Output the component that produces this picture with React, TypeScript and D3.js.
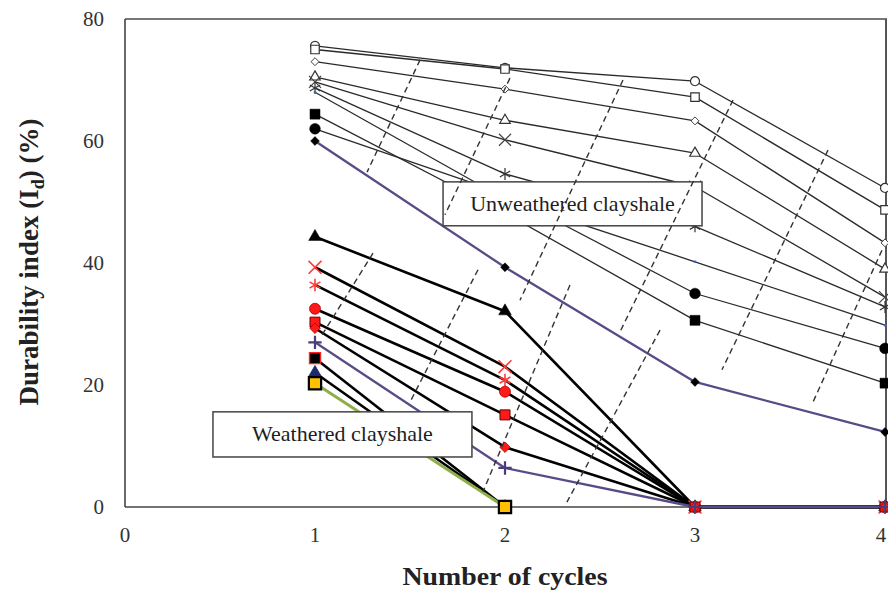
import React from 'react';
import * as d3 from 'd3';

// ---- data ----
const cycles = [1, 2, 3, 4];
const xTicks = [0, 1, 2, 3, 4];
const yTicks = [0, 20, 40, 60, 80];

// Unweathered clayshale (durability index, %)
const uwOpenCircle = [75.6, 72.0, 69.8, 52.3];
const uwOpenSquare = [75.0, 71.8, 67.2, 48.7];
const uwOpenDiamond = [73.0, 68.5, 63.3, 43.3];
const uwOpenTriangle = [70.5, 63.4, 58.0, 39.0];
const uwCross = [69.7, 60.2, 52.5, 34.4];
const uwStar = [68.7, 54.6, 46.0, 32.8];
const uwDash = [68.0, 50.5, 40.2, 29.8];
const uwFilledSquare = [64.4, 48.2, 30.6, 20.3];
const uwFilledCircle = [62.0, 51.3, 35.0, 26.0];
const uwFilledDiamond = [60.0, 39.3, 20.5, 12.3];

// Weathered clayshale
const wTriangle = [44.3, 32.1, 0, 0];
const wRedCross = [39.3, 23.0, 0, 0];
const wRedStar = [36.4, 20.8, 0, 0];
const wRedCircle = [32.5, 18.9, 0, 0];
const wRedSquare = [30.3, 15.1, 0, 0];
const wRedDiamond = [29.3, 9.8, 0, 0];
const wPurplePlus = [27.0, 6.4, 0, 0];
const wBlackRedSquare = [24.4, 0];
const wNavyTriangle = [22.0, 0];
const wOrangeSquare = [20.3, 0];

// dashed guide lines, [cycle, %] pairs
const dashedGuides: [number, number, number, number][] = [
  [1.553, 73.3, 1.274, 54.9],
  [1.305, 41.6, 1.037, 28.2],
  [2.026, 70.3, 1.684, 47.9],
  [1.858, 38.9, 1.5, 17.2],
  [2.342, 36.4, 1.884, 2.5],
  [2.621, 70.0, 2.079, 33.9],
  [3.2, 66.7, 2.605, 28.7],
  [2.816, 29.0, 2.326, 0.8],
  [3.7, 58.5, 3.142, 22.5],
  [3.984, 42.1, 3.621, 17.2],
];

// annotation boxes [x0, x1, yTop, yBottom] in data units
const labelUnweathered = 'Unweathered clayshale';
const boxUnweathered = [1.674, 3.037, 53.3, 46.1];
const labelWeathered = 'Weathered clayshale';
const boxWeathered = [0.463, 1.826, 15.6, 8.2];

type Series = {
  values: number[];
  symbol: any;
  size: number;
  fill: string;
  stroke: string;
  sw: number;
  line: string;
  lw: number;
};

const S = d3;

const unweathered: Series[] = [
  { values: uwOpenCircle, symbol: S.symbolCircle, size: 64, fill: '#fff', stroke: '#333', sw: 1.2, line: '#2a2a2a', lw: 1.3 },
  { values: uwOpenSquare, symbol: S.symbolSquare, size: 72, fill: '#fff', stroke: '#333', sw: 1.2, line: '#2a2a2a', lw: 1.3 },
  { values: uwOpenDiamond, symbol: S.symbolDiamond2, size: 40, fill: '#fff', stroke: '#444', sw: 1.0, line: '#2a2a2a', lw: 1.3 },
  { values: uwOpenTriangle, symbol: S.symbolTriangle, size: 48, fill: '#fff', stroke: '#333', sw: 1.2, line: '#2a2a2a', lw: 1.3 },
  { values: uwCross, symbol: S.symbolTimes, size: 96, fill: 'none', stroke: '#444', sw: 1.2, line: '#2a2a2a', lw: 1.3 },
  { values: uwStar, symbol: S.symbolAsterisk, size: 100, fill: 'none', stroke: '#333', sw: 1.2, line: '#2a2a2a', lw: 1.3 },
  { values: uwDash, symbol: S.symbolSquare, size: 6, fill: '#3a6bc4', stroke: 'none', sw: 0, line: '#2a2a2a', lw: 1.3 },
  { values: uwFilledSquare, symbol: S.symbolSquare, size: 100, fill: '#000', stroke: '#000', sw: 0.5, line: '#2a2a2a', lw: 1.3 },
  { values: uwFilledCircle, symbol: S.symbolCircle, size: 90, fill: '#000', stroke: '#000', sw: 0.5, line: '#2a2a2a', lw: 1.3 },
  { values: uwFilledDiamond, symbol: S.symbolDiamond2, size: 50, fill: '#000', stroke: '#000', sw: 0.5, line: '#5a4b86', lw: 2.3 },
];

const weathered: Series[] = [
  { values: wTriangle, symbol: S.symbolTriangle, size: 70, fill: '#000', stroke: '#000', sw: 0.5, line: '#000', lw: 2.6 },
  { values: wRedCross, symbol: S.symbolTimes, size: 110, fill: 'none', stroke: '#ff3b3b', sw: 1.6, line: '#000', lw: 2.6 },
  { values: wRedStar, symbol: S.symbolAsterisk, size: 110, fill: 'none', stroke: '#ff3b3b', sw: 1.6, line: '#000', lw: 2.6 },
  { values: wRedCircle, symbol: S.symbolCircle, size: 95, fill: '#ff1a1a', stroke: '#b00000', sw: 0.8, line: '#000', lw: 2.6 },
  { values: wRedSquare, symbol: S.symbolSquare, size: 100, fill: '#ff1a1a', stroke: '#600', sw: 1, line: '#000', lw: 2.6 },
  { values: wRedDiamond, symbol: S.symbolDiamond2, size: 70, fill: '#ff1a1a', stroke: '#b00000', sw: 0.8, line: '#000', lw: 2.6 },
  { values: wPurplePlus, symbol: S.symbolPlus, size: 60, fill: 'none', stroke: '#4a3b7c', sw: 2.2, line: '#5a4b86', lw: 2.3 },
  { values: wBlackRedSquare, symbol: S.symbolSquare, size: 120, fill: '#000', stroke: '#ff2020', sw: 1.4, line: '#000', lw: 2.6 },
  { values: wNavyTriangle, symbol: S.symbolTriangle, size: 70, fill: '#1d2a6e', stroke: '#1d2a6e', sw: 0.8, line: '#000', lw: 2.6 },
  { values: wOrangeSquare, symbol: S.symbolSquare, size: 150, fill: '#ffc000', stroke: '#000', sw: 2.2, line: '#8fae4a', lw: 3 },
];

const W = 888;
const H = 592;

export default function App() {
  const x = d3.scaleLinear().domain([0, 4]).range([125, 885]);
  const y = d3.scaleLinear().domain([0, 80]).range([507, 19]);
  const line = d3
    .line<number>()
    .x((_, i) => x(cycles[i]))
    .y((d) => y(d));

  const renderLines = (list: Series[], key: string) =>
    list.map((s, i) => (
      <path
        key={key + i}
        d={line(s.values) || ''}
        fill="none"
        stroke={s.line}
        strokeWidth={s.lw}
        strokeLinejoin="round"
      />
    ));

  const renderMarkers = (list: Series[], key: string) =>
    list.map((s, i) => {
      const p = d3.symbol().type(s.symbol).size(s.size)() || '';
      return (
        <g key={key + i}>
          {s.values.map((v, j) => (
            <path
              key={j}
              d={p}
              transform={`translate(${x(cycles[j])},${y(v)})`}
              fill={s.fill}
              stroke={s.stroke}
              strokeWidth={s.sw}
            />
          ))}
        </g>
      );
    });

  const serif = "'Liberation Serif', 'DejaVu Serif', serif";

  const box = (b: number[], label: string) => {
    const x0 = x(b[0]);
    const x1 = x(b[1]);
    const y0 = y(b[2]);
    const y1 = y(b[3]);
    return (
      <g>
        <rect x={x0} y={y0} width={x1 - x0} height={y1 - y0} fill="#fff" stroke="#444" strokeWidth={1.5} />
        <text
          x={(x0 + x1) / 2}
          y={(y0 + y1) / 2 + 7}
          textAnchor="middle"
          fontFamily={serif}
          fontSize={22}
          fill="#1e1e1e"
        >
          {label}
        </text>
      </g>
    );
  };

  return (
    <svg
      width={W}
      height={H}
      style={{ position: 'absolute', left: 0, top: 0, background: '#fff' }}
    >
      <rect x={0} y={0} width={W} height={H} fill="#fff" />
      {/* frame */}
      <line x1={x(0)} x2={887} y1={y(80)} y2={y(80)} stroke="#777" strokeWidth={2} />
      <line x1={886} x2={886} y1={y(80)} y2={y(0)} stroke="#555" strokeWidth={2} />
      <line x1={x(0)} x2={x(0)} y1={y(80)} y2={y(0)} stroke="#444" strokeWidth={1.6} />
      <line x1={x(0)} x2={887} y1={y(0)} y2={y(0)} stroke="#444" strokeWidth={1.6} />

      {/* tick labels */}
      {yTicks.map((t) => (
        <text
          key={'y' + t}
          x={104}
          y={y(t) + 7}
          textAnchor="end"
          fontFamily={serif}
          fontSize={21}
          fill="#333"
        >
          {t}
        </text>
      ))}
      {xTicks.map((t) => (
        <text
          key={'x' + t}
          x={Math.min(x(t), 881)}
          y={542}
          textAnchor="middle"
          fontFamily={serif}
          fontSize={21}
          fill="#333"
        >
          {t}
        </text>
      ))}

      {/* axis titles */}
      <text
        x={505}
        y={585}
        textAnchor="middle"
        fontFamily={serif}
        fontWeight="bold"
        fontSize={26}
        fill="#222"
        textLength={205}
        lengthAdjust="spacingAndGlyphs"
      >
        Number  of cycles
      </text>
      <text
        transform="translate(38,262) rotate(-90)"
        textAnchor="middle"
        fontFamily={serif}
        fontWeight="bold"
        fontSize={27}
        fill="#222"
      >
        Durability  index (I<tspan fontSize={18} dy={6}>d</tspan>
        <tspan dy={-6}>) (%)</tspan>
      </text>

      {/* data */}
      {renderLines(unweathered, 'ul')}
      {renderLines(weathered, 'wl')}
      {renderMarkers(unweathered, 'um')}
      {renderMarkers(weathered, 'wm')}

      {/* annotation boxes */}
      {box(boxUnweathered, labelUnweathered)}
      {box(boxWeathered, labelWeathered)}

      {/* dashed guides */}
      {dashedGuides.map((g, i) => (
        <line
          key={'d' + i}
          x1={x(g[0])}
          y1={y(g[1])}
          x2={x(g[2])}
          y2={y(g[3])}
          stroke="#333"
          strokeWidth={1.4}
          strokeDasharray="6,4"
        />
      ))}
    </svg>
  );
}
